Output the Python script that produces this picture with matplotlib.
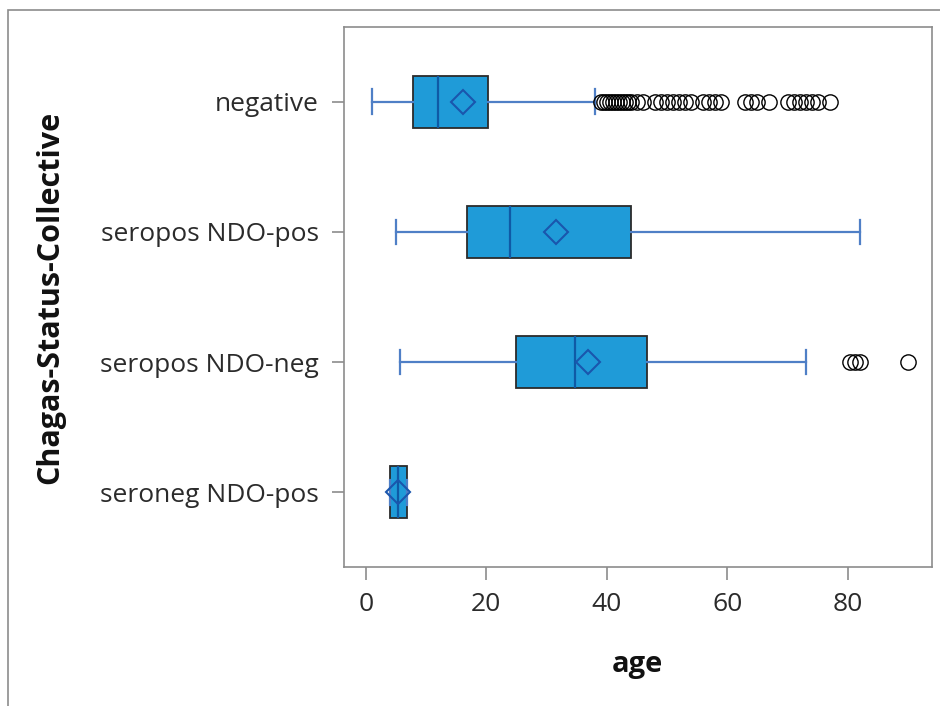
import matplotlib
matplotlib.use("Agg")
import matplotlib.pyplot as plt
from matplotlib.patches import Rectangle

plt.rcParams["font.family"] = ["Open Sans", "DejaVu Sans"]

# ── data ──────────────────────────────────────────────────────────────────────
groups = ["negative", "seropos NDO-pos", "seropos NDO-neg", "seroneg NDO-pos"]
whis_lo = [1, 5, 5.7, 4]
q1 = [7.8, 16.8, 24.9, 4]
median = [12, 24, 34.8, 5.4]
q3 = [20.3, 44, 46.6, 6.8]
whis_hi = [38, 82, 73, 6.8]
mean = [16.2, 31.6, 36.9, 5.3]
fliers = [
    [39, 39.5, 40, 40.5, 41, 41.5, 42, 42.5, 43, 43.5, 44, 45, 46, 48, 49,
     50, 51, 52, 53, 54, 56, 57, 58, 59, 63, 64, 65, 67, 70, 71, 72, 73,
     74, 75, 77],
    [],
    [80.3, 81.2, 82, 90],
    [],
]
xticks = [0, 20, 40, 60, 80]

_FILL = "#1f9bd8"
_EDGE = "#2b2b2b"
_MED = "#0f5aa6"
_WHIS = "#4f7fc6"
_MEAN = "#1a56ad"
_FRAME = "#8c8c8c"
_TEXT = "#2b2b2b"

fig = plt.figure(figsize=(9.4, 7.06), dpi=100)
ax = fig.add_axes([0.3657, 0.1969, 0.6253, 0.7649])

# outer graph border
fig.patches.append(Rectangle((8 / 940, -0.01), 1.0, 1 - 10 / 706 + 0.01,
                             transform=fig.transFigure, fill=False,
                             edgecolor=_FRAME, linewidth=1.2))

stats = []
for i, g in enumerate(groups):
    stats.append(dict(label=g, whislo=whis_lo[i], q1=q1[i], med=median[i],
                      q3=q3[i], whishi=whis_hi[i], mean=mean[i],
                      fliers=fliers[i]))

positions = list(range(len(groups)))[::-1]
ax.bxp(stats, positions=positions, widths=0.4, capwidths=0.19,
       orientation="horizontal", patch_artist=True, showmeans=True,
       boxprops=dict(facecolor=_FILL, edgecolor=_EDGE, linewidth=1.3),
       medianprops=dict(color=_MED, linewidth=1.6),
       whiskerprops=dict(color=_WHIS, linewidth=1.6),
       capprops=dict(color=_WHIS, linewidth=1.6),
       meanprops=dict(marker="D", markerfacecolor="none",
                      markeredgecolor=_MEAN, markersize=12,
                      markeredgewidth=1.5),
       flierprops=dict(marker="o", markerfacecolor="none",
                       markeredgecolor="black", markersize=11,
                       markeredgewidth=1.0))

ax.set_xlim(-3.65, 93.9)
ax.set_ylim(-0.575, 3.575)
ax.set_xticks(xticks)
ax.set_yticks(positions)
ax.set_yticklabels(groups)

ax.tick_params(axis="both", colors=_FRAME, labelcolor=_TEXT, labelsize=19,
               length=9, width=1.2)
ax.tick_params(axis="x", pad=9)
ax.tick_params(axis="y", pad=9)
for spine in ax.spines.values():
    spine.set_edgecolor(_FRAME)
    spine.set_linewidth(1.2)

ax.set_xlabel("age", fontsize=21, fontweight="bold", color="#111111",
              labelpad=24)
ax.set_ylabel("Chagas-Status-Collective", fontsize=22, fontweight="bold",
              color="#111111", labelpad=25)

fig.savefig("out.png", dpi=100)
